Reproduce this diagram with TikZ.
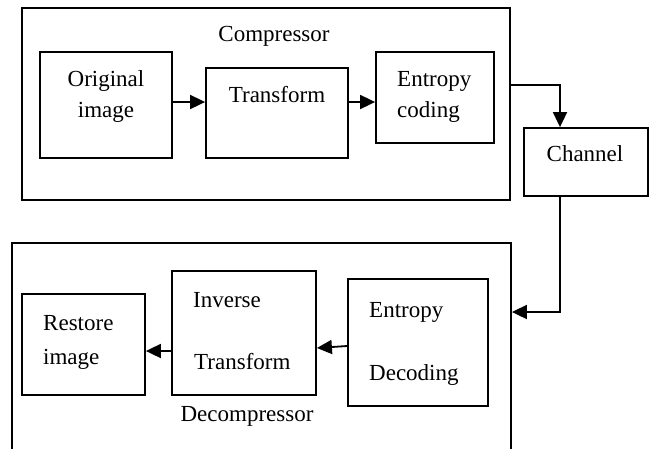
\documentclass[tikz,border=0pt]{standalone}
\usepackage{fontspec}
\setmainfont{Liberation Serif}
\usetikzlibrary{arrows.meta}
\tikzset{
  blk/.style={draw, line width=1.8pt, inner sep=0pt},
  txt/.style={inner sep=0pt, font=\fontsize{23}{27}\selectfont},
  arr/.style={line width=1.8pt, -{Triangle[length=15pt,width=14pt]}}
}
\begin{document}
\begin{tikzpicture}[x=1pt,y=-1pt]
    \useasboundingbox (0,0) rectangle (655,448);
    \clip (0,0) rectangle (655,448);
    %\draw[help lines, color=blue!20,step=50pt] (0,0) grid (655,448);

    % compressor side
    \node[blk, minimum width=488pt, minimum height=192pt] (comp) at (266,104) {};
    \node[blk, minimum width=132pt, minimum height=106pt] (orig) at (106,105) {};
    \node[blk, minimum width=142pt, minimum height=90pt] (trans) at (277,113) {};
    \node[blk, minimum width=118pt, minimum height=91pt] (enc) at (435,97.5) {};
    \node[blk, minimum width=124pt, minimum height=68pt] (chan) at (586,162) {};

    \node[txt, anchor=base] (tcomp) at (274,41) {Compressor};
    \node[txt, anchor=base] (torig1) at (106,86) {Original};
    \node[txt, anchor=base] (torig2) at (106,117) {image};
    \node[txt, anchor=base] (ttrans) at (277,102) {Transform};
    \node[txt, anchor=base west] (tenc1) at (397,86) {Entropy};
    \node[txt, anchor=base west] (tenc2) at (397,117) {coding};
    \node[txt, anchor=base] (tchan) at (585,161) {Channel};

    % decompressor side
    \node[blk, minimum width=499pt, minimum height=227pt] (decomp) at (261.5,356.5) {};
    \node[blk, minimum width=123pt, minimum height=101pt] (restore) at (83.5,344.5) {};
    \node[blk, minimum width=144pt, minimum height=124pt] (inv) at (244,333) {};
    \node[blk, minimum width=140pt, minimum height=127pt] (dec) at (418,342.5) {};

    \node[txt, anchor=base west] (trest1) at (43,330) {Restore};
    \node[txt, anchor=base west] (trest2) at (43,364) {image};
    \node[txt, anchor=base west] (tinv1) at (193,307) {Inverse};
    \node[txt, anchor=base west] (tinv2) at (194,369) {Transform};
    \node[txt, anchor=base west] (tdec1) at (369,317.5) {Entropy};
    \node[txt, anchor=base west] (tdec2) at (369,380) {Decoding};
    \node[txt, anchor=base] (tdecomp) at (247,421) {Decompressor};

    % connectors
    \draw[arr] (orig.east |- 0,102) -- (trans.west |- 0,102);
    \draw[arr] (trans.east |- 0,102) -- (enc.west |- 0,102);
    \draw[arr] (comp.east |- 0,85) -| (chan.north -| 560,0);
    \draw[arr] (chan.south -| 560,0) |- (decomp.east |- 0,312);
    \draw[arr] (dec.west |- 0,346) -- (inv.east |- 0,348);
    \draw[arr] (inv.west |- 0,351) -- (restore.east |- 0,351);
\end{tikzpicture}
\end{document}
